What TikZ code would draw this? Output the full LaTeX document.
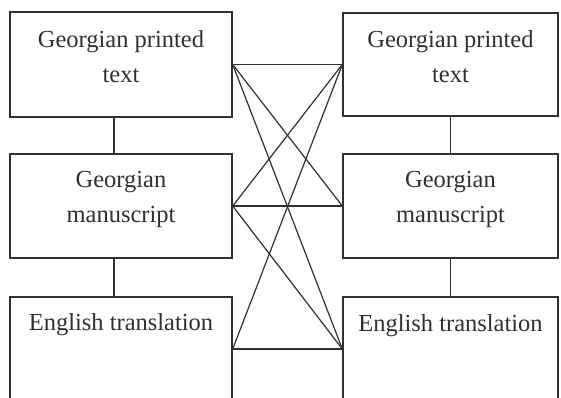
\documentclass[tikz,border=0pt]{standalone}
\usepackage{fontspec}
\setmainfont{Liberation Serif}
\begin{document}
\begin{tikzpicture}[x=1pt,y=1pt,
  box/.style={draw=ink, line width=1.4pt, minimum width=#1, inner sep=0pt},
  box/.default=222pt,
  label text/.style={anchor=north, inner sep=0pt, align=center, text=ink,
    font=\fontsize{24.5}{35}\selectfont},
  link/.style={draw=ink, line width=1.2pt}]
\definecolor{ink}{HTML}{303030}
\useasboundingbox (0,0) rectangle (561,398);
\clip (0,0) rectangle (561,398);
% left column (y measured up from the bottom edge)
\node[box, minimum height=105pt] (lt) at (121,333.5) {};
\node[box, minimum height=104pt] (lm) at (121,192) {};
\node[box, minimum height=104pt] (lb) at (121,49) {};
% right column
\node[box=215pt, minimum height=103pt] (rt) at (450.5,333.5) {};
\node[box=215pt, minimum height=104pt] (rm) at (450.5,192) {};
\node[box=215pt, minimum height=104pt] (rb) at (450.5,49) {};
% captions
\node[label text] (lt-t) at ([yshift=-19pt]lt.north) {Georgian printed\\text};
\node[label text] (lm-t) at ([yshift=-18pt]lm.north) {Georgian\\manuscript};
\node[label text] (lb-t) at ([yshift=-17pt]lb.north) {English translation};
\node[label text] (rt-t) at ([yshift=-18pt]rt.north) {Georgian printed\\text};
\node[label text] (rm-t) at ([yshift=-18pt]rm.north) {Georgian\\manuscript};
\node[label text] (rb-t) at ([yshift=-18pt]rb.north) {English translation};
% vertical links inside each column
\draw[link] ([xshift=-7pt]lt.south) -- ([xshift=-7pt]lm.north);
\draw[link] ([xshift=-7pt]lm.south) -- ([xshift=-7pt]lb.north);
\draw[link] (rt.south) -- (rm.north);
\draw[link] (rm.south) -- (rb.north);
% cross links between the columns
\draw[link] (lt.east) -- (rt.west);
\draw[link] (lt.east) -- (rm.west);
\draw[link] (lt.east) -- (rb.west);
\draw[link] (lm.east) -- (rt.west);
\draw[link] (lm.east) -- (rm.west);
\draw[link] (lm.east) -- (rb.west);
\draw[link] (lb.east) -- (rt.west);
\draw[link] (lb.east) -- (rb.west);
\end{tikzpicture}
\end{document}
